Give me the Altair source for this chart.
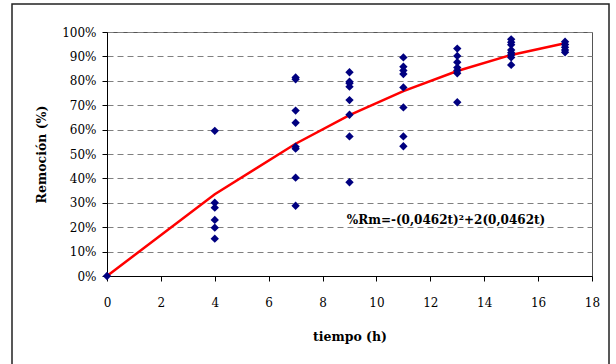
import altair as alt
import pandas as pd

# Observed removal data (tiempo in h, remoción in %)
t_obs = [0,
         4, 4, 4, 4, 4, 4,
         7, 7, 7, 7, 7, 7, 7, 7,
         9, 9, 9, 9, 9, 9, 9, 9,
         11, 11, 11, 11, 11, 11, 11, 11,
         13, 13, 13, 13, 13, 13, 13,
         15, 15, 15, 15, 15, 15, 15, 15,
         17, 17, 17, 17, 17]
r_obs = [0,
         59.5, 30.0, 28.0, 23.0, 19.8, 15.3,
         81.4, 80.6, 67.8, 62.8, 53.0, 52.2, 40.3, 28.8,
         83.5, 79.6, 79.0, 77.6, 72.1, 66.1, 57.2, 38.4,
         89.6, 85.8, 84.2, 82.8, 77.3, 69.1, 57.2, 53.2,
         93.2, 90.2, 87.6, 85.4, 84.2, 83.1, 71.2,
         97.0, 95.8, 94.8, 92.6, 91.5, 90.6, 89.6, 86.5,
         96.0, 94.9, 93.7, 92.6, 91.7]

# Fitted curve
t_fit = [0, 4, 7, 9, 11, 13, 15, 17]
r_fit = [0, 33.5, 54.2, 65.9, 75.8, 84.0, 90.6, 95.4]

# Annotation
ann_text = ["%Rm=-(0,0462t)²+2(0,0462t)"]
ann_t = [8.9]
ann_r = [23.0]

x_ticks = [0, 2, 4, 6, 8, 10, 12, 14, 16, 18]
y_ticks = [0, 10, 20, 30, 40, 50, 60, 70, 80, 90, 100]

obs = pd.DataFrame({"t": t_obs, "r": r_obs})
fit = pd.DataFrame({"t": t_fit, "r": r_fit})
ann = pd.DataFrame({"t": ann_t, "r": ann_r, "label": ann_text})

FONT = "DejaVu Serif"

x_scale = alt.Scale(domain=[0, 18], nice=False, zero=False)
y_scale = alt.Scale(domain=[0, 100], nice=False)

x_axis = alt.Axis(values=x_ticks, grid=False, tickSize=5, tickColor="black",
                  domainColor="black", labelFont=FONT, labelFontSize=12,
                  labelColor="black", labelPadding=16, title="tiempo (h)",
                  titleFont=FONT, titleFontSize=12.5, titleFontWeight="bold",
                  titleColor="black", titlePadding=22, labelFlush=False,
                  labelOverlap=False)
y_axis = alt.Axis(values=y_ticks, grid=True, gridDash=[6, 4], gridColor="#808080",
                  gridWidth=1, tickSize=5, tickColor="black", domainColor="black",
                  labelFont=FONT, labelFontSize=12, labelColor="black",
                  labelPadding=6, labelExpr="datum.value + '%'",
                  labelOverlap=False, labelFlush=False,
                  title="Remoción (%)", titleFont=FONT, titleFontSize=12.5,
                  titleFontWeight="bold", titleColor="black", titlePadding=13)

X = alt.X("t:Q", scale=x_scale, axis=x_axis)
Y = alt.Y("r:Q", scale=y_scale, axis=y_axis)

frame = alt.Chart(ann).mark_rect(filled=False, stroke="#222222", strokeWidth=1.5).encode(
    x=alt.value(-95), x2=alt.value(502), y=alt.value(-28), y2=alt.value(345)
)

line = alt.Chart(fit).mark_line(color="#FF0000", strokeWidth=2.5).encode(x=X, y=Y)

pts = alt.Chart(obs).mark_point(shape="diamond", filled=True, color="#000080",
                                 size=70, opacity=1).encode(x=X, y=Y)

txt = alt.Chart(ann).mark_text(align="left", baseline="middle", font=FONT,
                               fontSize=12, fontWeight="bold", color="black").encode(
    x=X, y=Y, text="label:N",
)

chart = alt.layer(frame, line, pts, txt).properties(
    width=485, height=244,
    autosize=alt.AutoSizeParams(type="none"),
    padding={"left": 107, "top": 32, "right": 24, "bottom": 88},
    background="white",
).configure_view(stroke="#555555", strokeWidth=1)

chart.save("out.html", embed_options={"renderer": "svg", "actions": False})
